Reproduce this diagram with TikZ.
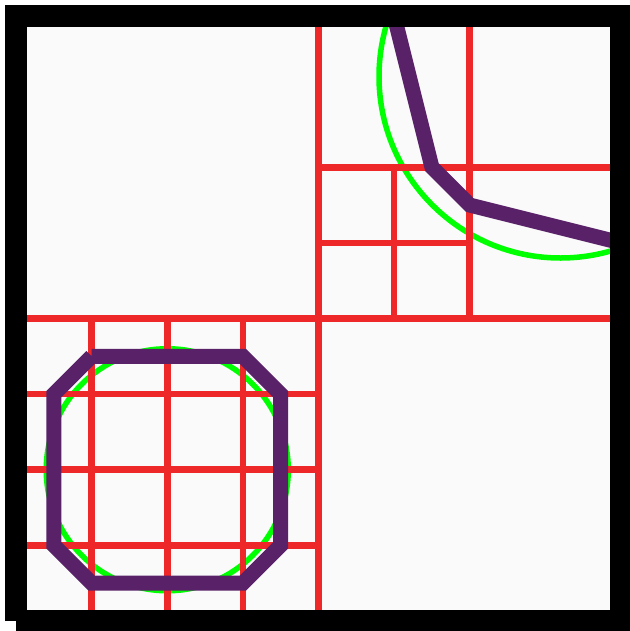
\documentclass[tikz,border=0pt]{standalone}
\definecolor{fondo}{RGB}{250,250,250}
\definecolor{rojo}{RGB}{238,40,40}
\definecolor{verde}{RGB}{0,255,0}
\definecolor{morado}{RGB}{88,33,104}
\begin{document}
\begin{tikzpicture}[x=75.625pt, y=-75.625pt,
	celda/.style={rojo, line width=6.7pt},
	circulo/.style={verde, line width=5.5pt},
	contorno/.style={morado, line width=15pt, line join=miter},
	marco/.style={black, line width=22pt, line join=miter}]

\useasboundingbox (-0.2116,-0.2116) rectangle (8.1058,8.1322);
\fill[white] (-0.2116,-0.2116) rectangle (8.1058,8.1322);

\begin{scope}
\clip (0,0) rectangle (8,8);
% Fondo
\fill[fondo] (0,0) rectangle (8,8);

% Circulos
\draw[circulo] (2,6) circle[radius=1.6];
\draw[circulo] (7.2,0.8) circle[radius=2.4];

% Cuadricula
	\draw[celda] (4,0) -- (4,8);
	\draw[celda] (0,4) -- (8,4);

	\draw[celda] (6,0) -- (6,4);
	\draw[celda] (4,2) -- (8,2);
	\draw[celda] (5,2) -- (5,4);
	\draw[celda] (4,3) -- (6,3);

	\foreach \x in {1, 2, 3}
		\draw[celda] (\x,4) -- (\x,8);
	\foreach \y in {5, 6, 7}
		\draw[celda] (0,\y) -- (4,\y);

% Contornos
\draw[contorno] (1,4.5) -- (3,4.5) -- (3.5,5) -- (3.5,7) -- (3,7.5)
	-- (1,7.5) -- (0.5,7) -- (0.5,5) -- (1,4.5);
\draw[contorno] (5,0) -- (5.5,2) -- (6,2.5) -- (8,3);
\end{scope}

% Marco
\draw[marco] (0,8) -- (0,0) -- (8,0) -- (8,8) -- (0,8);
\end{tikzpicture}
\end{document}
